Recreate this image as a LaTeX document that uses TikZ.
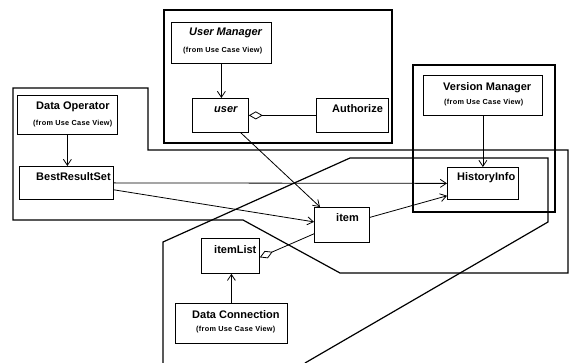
\documentclass[tikz,border=0pt]{standalone}
\usepackage{fontspec}
\setmainfont{Liberation Sans}
\usetikzlibrary{arrows.meta,calc}
\tikzset{
  cls/.style={draw, line width=0.8pt, inner sep=0pt, anchor=north west},
  title/.style={inner sep=0pt, anchor=base west, font=\fontsize{11}{13}\selectfont\bfseries},
  slanted/.style={font=\fontsize{11}{13}\selectfont\bfseries\itshape},
  origin/.style={inner sep=0pt, anchor=base west, font=\fontsize{7.3}{9}\selectfont\bfseries\addfontfeature{LetterSpace=4}},
  pkg/.style={line width=1.2pt, line join=miter},
  dep/.style={line width=0.8pt, -{Straight Barb[length=6pt,width=8pt,line width=0.8pt]}},
  agg/.style={line width=0.8pt, {Diamond[open,length=14pt,width=8pt,line width=0.8pt]}-},
}
\begin{document}
\begin{tikzpicture}[x=1pt, y=-1pt]
\useasboundingbox (0,0) rectangle (571,363);

% package outlines
\draw[pkg] (164,10) rectangle (392,143);
\draw[pkg] (13,88) -- (148,88) -- (148,150) -- (568,150) -- (568,273)
  -- (340,273) -- (243,220) -- (13,220) -- cycle;
\draw[pkg, line width=1.6pt] (413,65) rectangle (555,212);
\draw[pkg] (163,363) -- (163,242) -- (350,158) -- (548,158) -- (548,222) -- (305,363);

% classes
\node[cls, minimum width=100pt, minimum height=41pt] (um)   at (171,22)  {};
\node[cls, minimum width=56pt,  minimum height=34pt] (user) at (192,98)  {};
\node[cls, minimum width=72pt,  minimum height=34pt] (auth) at (316,98)  {};
\node[cls, minimum width=100pt, minimum height=39pt] (do)   at (17,95)   {};
\node[cls, minimum width=94pt,  minimum height=33pt] (brs)  at (19,166)  {};
\node[cls, minimum width=119pt, minimum height=40pt] (vm)   at (423,75)  {};
\node[cls, minimum width=71pt,  minimum height=32pt] (hi)   at (447,167) {};
\node[cls, minimum width=55pt,  minimum height=35pt] (item) at (314,207) {};
\node[cls, minimum width=58pt,  minimum height=35pt] (il)   at (201,238) {};
\node[cls, minimum width=112pt, minimum height=40pt] (dc)   at (175,303) {};

% class names
\node[title, slanted] (umt) at (189,36) {User Manager};
\node[origin] (umo) at (183,53) {(from Use Case View)};
\node[title, slanted] (usert) at (214,113) {user};
\node[title] (autht) at (332,113) {Authorize};
\node[title] (dot) at (36,110) {Data Operator};
\node[origin] (doo) at (33,126) {(from Use Case View)};
\node[title] (brst) at (36,181) {BestResultSet};
\node[title] (vmt) at (443,91) {Version Manager};
\node[origin] (vmo) at (444,105) {(from Use Case View)};
\node[title] (hit) at (457,181) {HistoryInfo};
\node[title] (itemt) at (336,222) {item};
\node[title] (ilt) at (214,254) {itemList};
\node[title] (dct) at (192,319) {Data Connection};
\node[origin] (dco) at (196,332) {(from Use Case View)};

% relations
\draw[dep] (um.south) -- (um.south |- user.north);
\draw[agg] (user.east) -- (auth.west);
\draw[dep] (vm.south) -- (vm.south |- hi.north);
\draw[dep] (do.south) -- (do.south |- brs.north);
\draw[dep] (brs.east) -- (hi.west);
\draw[dep] ($(brs.south east)+(0,-10)$) -- ($(item.west)+(0,-3)$);
\draw[dep] ($(user.south east)+(-8,0)$) -- ($(item.north west)+(6,0)$);
\draw[dep] ($(item.east)+(0,-7.5)$) -- ($(hi.south west)+(0,-4)$);
\draw[dep] (dc.north) -- (dc.north |- il.south);
\draw[agg] ($(il.east)+(0,1.5)$) -- ($(item.south west)+(0,-9)$);
\end{tikzpicture}
\end{document}
